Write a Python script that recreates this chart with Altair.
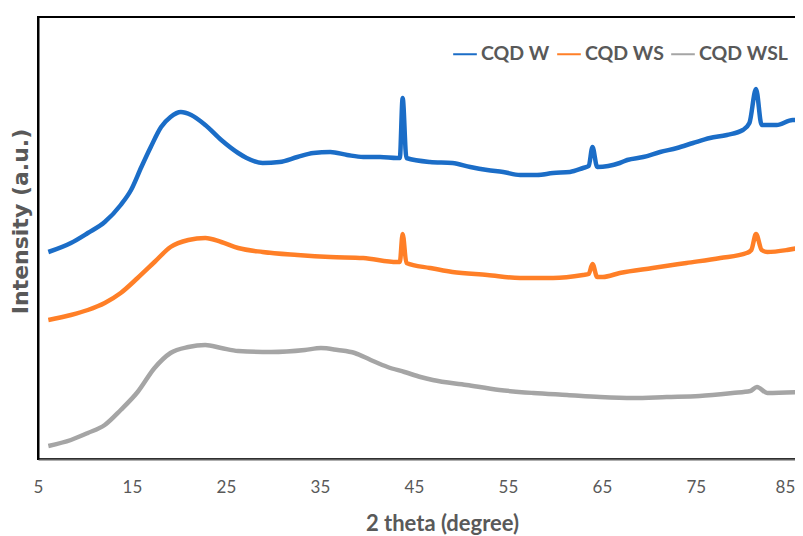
import altair as alt
import pandas as pd

samples = ["CQD W", "CQD WS", "CQD WSL"]
colors = ["#1b6dc7", "#ff7f27", "#a5a5a5"]

theta_w = [6.1, 8.5, 10.3, 12.1, 13.8, 14.9, 16.0, 17.0, 18.1, 19.1, 20.2, 21.3, 22.8, 24.5,
           26.3, 27.2, 28.9, 30.7, 32.6, 34.3, 36.1, 37.9, 39.6, 41.4, 43.2, 43.5, 43.8, 44.2,
           46.7, 49.1, 51.0, 52.8, 54.5, 56.3, 58.1, 59.8, 61.6, 63.0, 63.6, 64.0, 64.5, 66.9,
           67.7, 69.4, 71.2, 73.0, 74.7, 76.5, 78.3, 80.0, 80.7, 81.4, 82.0, 83.6, 85.3, 86.4]
int_w = [207, 216, 226, 237, 254, 269, 292, 312, 332, 342, 347, 344, 334, 319,
         306, 301, 296, 297, 302, 306, 307, 304, 302, 302, 301, 301, 361, 301,
         297, 296, 292, 289, 287, 284, 284, 286, 287, 291, 293, 312, 292, 296,
         299, 302, 307, 311, 316, 321, 324, 329, 336, 370, 334, 334, 339, 339]

theta_ws = [6.1, 8.5, 10.3, 12.1, 13.8, 15.6, 17.4, 19.1, 21.0, 22.8, 24.5, 26.3, 28.9,
            32.6, 36.1, 39.6, 43.2, 43.5, 43.8, 44.2, 46.7, 49.1, 52.8, 56.3, 59.8, 63.0,
            63.6, 64.0, 64.5, 65.1, 66.9, 70.4, 74.0, 77.6, 80.4, 80.9, 81.4, 82.0, 82.6,
            84.7, 86.4]
int_ws = [139, 144, 149, 156, 166, 181, 197, 212, 219, 221, 217, 211, 207,
          204, 202, 201, 197, 197, 225, 196, 191, 187, 184, 181, 181, 184,
          185, 195, 182, 182, 186, 191, 196, 201, 206, 209, 225, 209, 207,
          209, 212]

theta_wsl = [6.1, 8.5, 10.3, 12.1, 13.8, 15.6, 17.4, 19.1, 21.0, 22.8, 24.5, 26.3, 29.8,
             33.4, 35.1, 36.9, 38.7, 40.4, 42.2, 44.0, 45.7, 47.0, 50.6, 54.1, 57.7, 61.3,
             64.8, 68.3, 71.9, 75.4, 78.9, 80.8, 81.5, 82.6, 86.4]
int_wsl = [13, 19, 26, 34, 49, 67, 91, 106, 112, 114, 111, 108, 107,
           109, 111, 109, 106, 99, 92, 87, 82, 79, 74, 69, 66, 64,
           62, 61, 62, 63, 66, 68, 72, 66, 67]

x_ticks = [5, 15, 25, 35, 45, 55, 65, 75, 85]

rows = []
for name, xs, ys in [(samples[0], theta_w, int_w), (samples[1], theta_ws, int_ws),
                     (samples[2], theta_wsl, int_wsl)]:
    for x, y in zip(xs, ys):
        rows.append({"theta": x, "intensity": y, "sample": name})
df = pd.DataFrame(rows)

FONT = "Lato"
TXT = "#595959"

chart = alt.Chart(df).mark_line(strokeWidth=4.5, strokeJoin="round", clip=True,
                                interpolate="monotone").encode(
    x=alt.X("theta:Q",
            scale=alt.Scale(domain=[5, 86.4], nice=False, zero=False),
            axis=alt.Axis(values=x_ticks, title="2 theta (degree)", grid=False, ticks=False,
                          labelFlush=False,
                          labelAlign=alt.expr("datum.value == 85 ? 'right' : 'center'"),
                          labelOffset=alt.expr("datum.value == 85 ? 5 : 0"),
                          domainColor="#5f5f5f", domainWidth=2, labelFont=FONT,
                          labelFontSize=17, labelColor=TXT, labelPadding=20,
                          titleFont=FONT, titleFontSize=22, titleFontWeight="bold",
                          titleColor=TXT, titlePadding=18, titleX=404)),
    y=alt.Y("intensity:Q",
            scale=alt.Scale(domain=[0, 442], nice=False),
            axis=alt.Axis(labels=False, ticks=False, grid=False, title="Intensity (a.u.)",
                          domainColor="black", domainWidth=2, titleFont="DejaVu Sans",
                          titleFontSize=22, titleFontWeight="bold", titleColor=TXT,
                          titlePadding=6, titleY=204)),
    color=alt.Color("sample:N",
                    scale=alt.Scale(domain=samples, range=colors),
                    legend=alt.Legend(orient="none", legendX=414, legendY=24,
                                      direction="horizontal", title=None,
                                      symbolType="stroke", symbolSize=560,
                                      symbolStrokeWidth=2, labelFont=FONT,
                                      labelFontSize=19.5, labelFontWeight="bold",
                                      labelColor=TXT, labelOffset=3, columnPadding=3)),
).properties(
    width=765, height=442,
    autosize=alt.AutoSizeParams(type="none"),
    padding={"left": 30, "top": 9, "right": -8, "bottom": 76},
).configure_view(stroke="black", strokeWidth=2)

chart.save("out.html", embed_options={"renderer": "svg", "actions": False})
